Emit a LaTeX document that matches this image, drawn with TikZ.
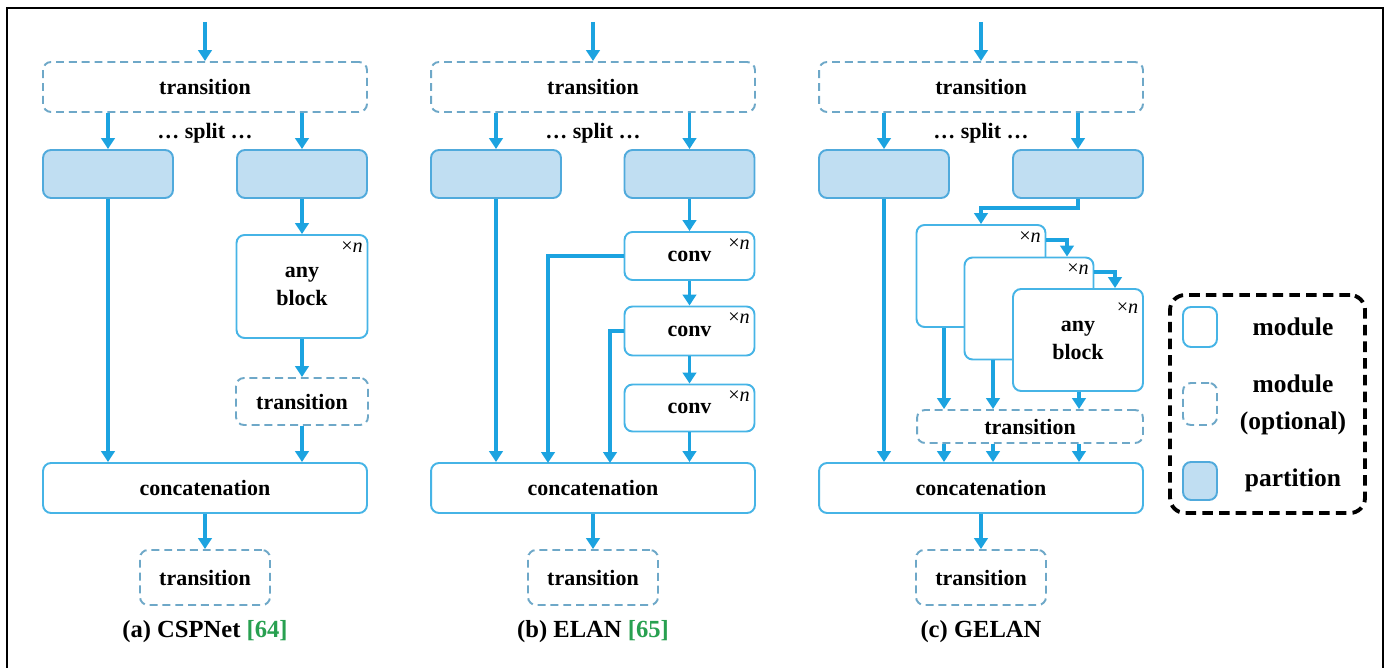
\documentclass[tikz,border=0pt]{standalone}
\usepackage{fontspec}
\setmainfont{Liberation Serif}
\usetikzlibrary{arrows.meta,positioning}

\definecolor{flowblue}{RGB}{28,163,224}
\definecolor{modline}{RGB}{70,180,230}
\definecolor{optline}{RGB}{110,168,200}
\definecolor{partfill}{RGB}{192,222,242}
\definecolor{partline}{RGB}{80,170,220}
\definecolor{refgreen}{RGB}{40,160,80}

\newcommand{\boxfont}{\fontsize{12.5}{16}\selectfont\bfseries}
\newcommand{\legfont}{\fontsize{14.5}{21}\selectfont\bfseries}
\newcommand{\capfont}{\fontsize{14}{16}\selectfont\bfseries}

\tikzset{
  module/.style={draw=modline,line width=1.1pt,rounded corners=0.16cm,fill=white,
                 font=\boxfont,align=center,inner sep=0pt},
  optional/.style={module,draw=optline,dash pattern=on 4.5pt off 2.8pt},
  part/.style={module,draw=partline,fill=partfill},
  flow/.style={draw=flowblue,line width=2pt,-{Triangle[length=0.22cm,width=0.27cm]}},
  times/.style={font=\fontsize{11.5}{11.5}\selectfont,inner sep=0pt,anchor=north east},
}

\begin{document}
\begin{tikzpicture}[x=0.02cm,y=-0.02cm]
\useasboundingbox (0,0) rectangle (1389,668);
% outer frame
\draw[line width=1.4pt] (7,668) -- (7,8) -- (1383,8) -- (1383,668);

% (a) CSPNet
\coordinate (inA) at (205,22);
\node[optional,minimum width=6.48cm,minimum height=1.0cm] (trA) at (205,87) {transition};
\node[font=\boxfont] (splitA) at (205,133) {\dots{} split \dots};
\node[part,minimum width=2.6cm,minimum height=0.96cm] (spA1) at (108,174) {};
\node[part,minimum width=2.6cm,minimum height=0.96cm] (spA2) at (302,174) {};
\node[module,minimum width=2.62cm,minimum height=2.06cm] (blkA) at (302,286.5) {any\\block};
\node[times] (xnA) at ([xshift=-3pt,yshift=-4pt]blkA.north east) {×\textit{n}};
\node[optional,minimum width=2.64cm,minimum height=0.94cm] (trA2) at (302,401.5) {transition};
\node[module,minimum width=6.48cm,minimum height=1.0cm] (catA) at (205,488) {concatenation};
\node[optional,minimum width=2.6cm,minimum height=1.1cm] (outA) at (205,577.5) {transition};
\node[font=\capfont] (capA) at (205,632) {(a) CSPNet \textcolor{refgreen}{[64]}};

\draw[flow] (inA) -- (trA.north);
\draw[flow] (trA.south -| spA1) -- (spA1.north);
\draw[flow] (trA.south -| spA2) -- (spA2.north);
\draw[flow] (spA1.south) -- (catA.north -| spA1);
\draw[flow] (spA2.south) -- (blkA.north);
\draw[flow] (blkA.south) -- (trA2.north);
\draw[flow] (trA2.south) -- (catA.north -| trA2);
\draw[flow] (catA.south) -- (outA.north);

% (b) ELAN
\coordinate (inB) at (593,22);
\node[optional,minimum width=6.48cm,minimum height=1.0cm] (trB) at (593,87) {transition};
\node[font=\boxfont] (splitB) at (593,133) {\dots{} split \dots};
\node[part,minimum width=2.6cm,minimum height=0.96cm] (spB1) at (496,174) {};
\node[part,minimum width=2.6cm,minimum height=0.96cm] (spB2) at (689.5,174) {};
\node[module,minimum width=2.6cm,minimum height=0.96cm] (convB1) at (689.5,256) {conv};
\node[module,minimum width=2.6cm,minimum height=0.98cm] (convB2) at (689.5,331) {conv};
\node[module,minimum width=2.6cm,minimum height=0.94cm] (convB3) at (689.5,408) {conv};
\node[times] (xnB1) at ([xshift=-3pt,yshift=-4pt]convB1.north east) {×\textit{n}};
\node[times] (xnB2) at ([xshift=-3pt,yshift=-4pt]convB2.north east) {×\textit{n}};
\node[times] (xnB3) at ([xshift=-3pt,yshift=-4pt]convB3.north east) {×\textit{n}};
\node[module,minimum width=6.48cm,minimum height=1.0cm] (catB) at (593,488) {concatenation};
\node[optional,minimum width=2.6cm,minimum height=1.1cm] (outB) at (593,577.5) {transition};
\node[font=\capfont] (capB) at (593,632) {(b) ELAN \textcolor{refgreen}{[65]}};
\coordinate (brB1) at (548,463);
\coordinate (brB2) at (610,463);

\draw[flow] (inB) -- (trB.north);
\draw[flow] (trB.south -| spB1) -- (spB1.north);
\draw[flow] (trB.south -| spB2) -- (spB2.north);
\draw[flow] (spB1.south) -- (catB.north -| spB1);
\draw[flow] (spB2.south) -- (convB1.north);
\draw[flow] (convB1.south) -- (convB2.north);
\draw[flow] (convB2.south) -- (convB3.north);
\draw[flow] (convB3.south) -- (catB.north -| convB3);
\draw[flow] (convB1.west) -| (brB1);
\draw[flow] (convB2.west) -| (brB2);
\draw[flow] (catB.south) -- (outB.north);

% (c) GELAN
\coordinate (inC) at (981,22);
\node[optional,minimum width=6.48cm,minimum height=1.0cm] (trC) at (981,87) {transition};
\node[font=\boxfont] (splitC) at (981,133) {\dots{} split \dots};
\node[part,minimum width=2.6cm,minimum height=0.96cm] (spC1) at (884,174) {};
\node[part,minimum width=2.6cm,minimum height=0.96cm] (spC2) at (1078,174) {};
\coordinate (kC) at (981,208);
\node[module,minimum width=2.58cm,minimum height=2.04cm] (g1) at (981,276) {};
\node[times] (xnC1) at ([xshift=-3pt,yshift=-4pt]g1.north east) {×\textit{n}};
\node[module,minimum width=2.58cm,minimum height=2.04cm] (g2) at (1029,308.5) {};
\node[times] (xnC2) at ([xshift=-3pt,yshift=-4pt]g2.north east) {×\textit{n}};
\node[module,minimum width=2.6cm,minimum height=2.04cm] (g3) at (1078,340) {any\\block};
\node[times] (xnC3) at ([xshift=-3pt,yshift=-8pt]g3.north east) {×\textit{n}};
\node[optional,minimum width=4.52cm,minimum height=0.66cm] (trC2) at (1030,426.5) {transition};
\node[module,minimum width=6.48cm,minimum height=1.0cm] (catC) at (981,488) {concatenation};
\node[optional,minimum width=2.6cm,minimum height=1.1cm] (outC) at (981,577.5) {transition};
\node[font=\capfont] (capC) at (981,632) {(c) GELAN};
\coordinate (hC1) at (1067,240);
\coordinate (hC2) at (1115,272);
\coordinate (dC1) at (944,0);
\coordinate (dC2) at (993,0);
\coordinate (dC3) at (1079,0);

\draw[flow] (inC) -- (trC.north);
\draw[flow] (trC.south -| spC1) -- (spC1.north);
\draw[flow] (trC.south -| spC2) -- (spC2.north);
\draw[flow] (spC1.south) -- (catC.north -| spC1);
\draw[flow] (spC2.south) |- (kC) -- (g1.north);
\draw[flow] (hC1 -| g1.east) -| (g2.north -| hC1);
\draw[flow] (hC2 -| g2.east) -| (g3.north -| hC2);
\draw[flow] (g1.south -| dC1) -- (trC2.north -| dC1);
\draw[flow] (g2.south -| dC2) -- (trC2.north -| dC2);
\draw[flow] (g3.south -| dC3) -- (trC2.north -| dC3);
\draw[flow] (trC2.south -| dC1) -- (catC.north -| dC1);
\draw[flow] (trC2.south -| dC2) -- (catC.north -| dC2);
\draw[flow] (trC2.south -| dC3) -- (catC.north -| dC3);
\draw[flow] (catC.south) -- (outC.north);

% legend
\node[draw=black,line width=2.2pt,dash pattern=on 6pt off 3.5pt,rounded corners=0.3cm,
      minimum width=3.9cm,minimum height=4.36cm] (legBox) at (1267.5,404) {};
\node[module,minimum width=0.68cm,minimum height=0.8cm] (legM) at (1200,327) {};
\node[font=\legfont] (legMt) at (1293,327) {module};
\node[optional,minimum width=0.68cm,minimum height=0.84cm] (legO) at (1200,404) {};
\node[font=\legfont,align=center] (legOt) at (1293,405) {module\\(optional)};
\node[part,minimum width=0.68cm,minimum height=0.76cm] (legP) at (1200,481) {};
\node[font=\legfont] (legPt) at (1293,480) {partition};
\end{tikzpicture}
\end{document}
